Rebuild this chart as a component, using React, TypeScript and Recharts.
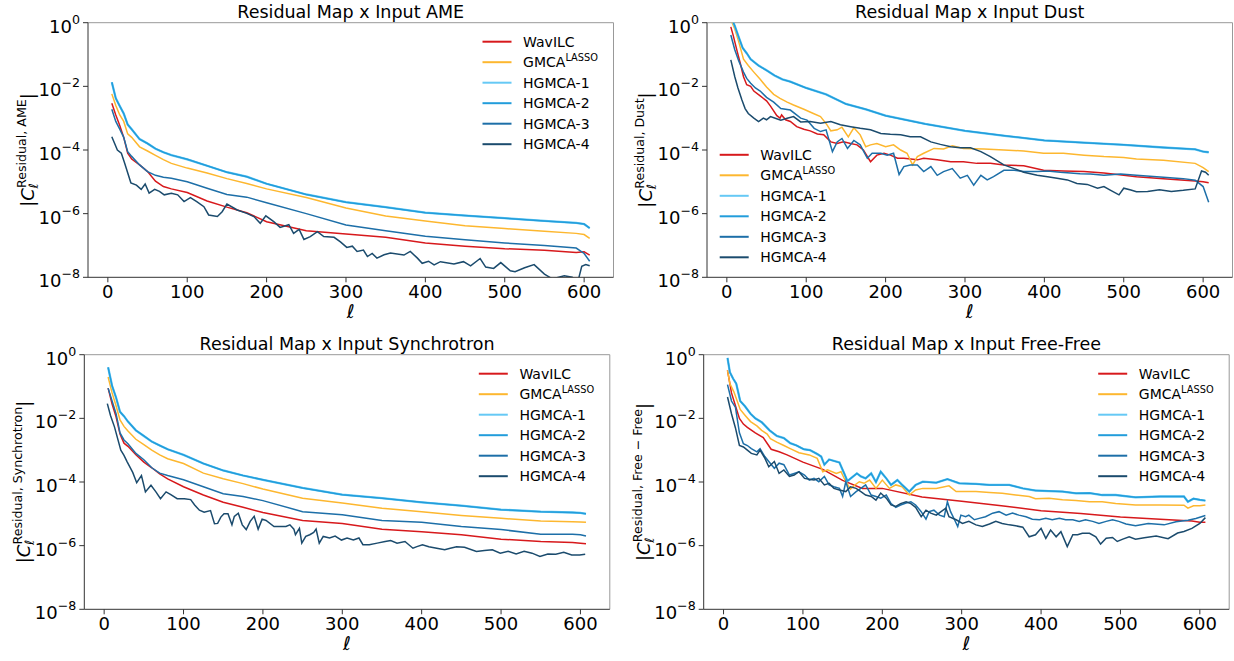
import React from 'react';
import { LineChart, Line, XAxis, YAxis, ReferenceLine } from 'recharts';

// multipoles shared by the smoother curves
const ellGrid = [5, 10, 15, 20, 25, 30, 40, 50, 60, 70, 80, 100, 125, 150, 175, 200, 250, 300, 350, 400, 450, 500, 550, 590, 600, 607];

// ---- AME ----
const ameWavilc = [2.95e-3, 1.26e-3, 5.9e-4, 2.5e-4, 7.9e-5, 5.2e-5, 3.4e-5, 2.1e-5, 1.05e-5, 7.1e-6, 6.0e-6, 4.6e-6, 2.5e-6, 1.6e-6, 1.07e-6, 5.6e-7, 2.9e-7, 2.3e-7, 1.8e-7, 1.2e-7, 9.5e-8, 7.9e-8, 7.1e-8, 6.0e-8, 6.3e-8, 5.0e-8];
const ameGmca = [5.8e-3, 2.5e-3, 1.26e-3, 7.9e-4, 3.2e-4, 2.5e-4, 1.26e-4, 9.3e-5, 6.8e-5, 5.0e-5, 3.8e-5, 2.7e-5, 1.9e-5, 1.26e-5, 8.9e-6, 6.0e-6, 3.2e-6, 1.5e-6, 8.5e-7, 5.9e-7, 4.2e-7, 3.4e-7, 2.8e-7, 2.4e-7, 2.2e-7, 1.66e-7];
const ameHgmca12 = [1.35e-2, 4.2e-3, 2.4e-3, 1.4e-3, 6.3e-4, 4.5e-4, 2.2e-4, 1.6e-4, 1.1e-4, 8.5e-5, 6.9e-5, 5.1e-5, 3.2e-5, 2.0e-5, 1.45e-5, 8.7e-6, 4.0e-6, 2.3e-6, 1.6e-6, 1.07e-6, 8.7e-7, 7.2e-7, 5.9e-7, 5.1e-7, 4.7e-7, 3.5e-7];
const ameHgmca3 = [1.9e-3, 7.9e-4, 4.5e-4, 2.5e-4, 8.9e-5, 6.3e-5, 3.4e-5, 2.1e-5, 1.6e-5, 1.4e-5, 1.3e-5, 1.0e-5, 6.3e-6, 4.0e-6, 3.3e-6, 2.2e-6, 1.0e-6, 4.4e-7, 2.9e-7, 1.95e-7, 1.5e-7, 1.2e-7, 1.0e-7, 8.3e-8, 5.6e-8, 3.2e-8];
const ameHgmca4Ell = [5, 12, 17, 21, 29, 36, 42, 47, 52, 59, 65, 71, 80, 88, 96, 104, 112, 121, 127, 138, 144, 150, 163, 175, 184, 192, 199, 209, 217, 228, 234, 241, 247, 255, 264, 272, 285, 293, 301, 308, 314, 322, 327, 333, 339, 348, 356, 373, 381, 390, 396, 404, 411, 419, 436, 448, 457, 469, 476, 486, 495, 507, 513, 525, 537, 550, 560, 575, 585, 592, 597, 602, 607];
const ameHgmca4 = [2.6e-4, 1.0e-4, 7.9e-5, 4.0e-5, 9.3e-6, 7.9e-6, 5.8e-6, 8.5e-6, 4.4e-6, 5.8e-6, 5.0e-6, 3.9e-6, 4.4e-6, 3.9e-6, 2.4e-6, 3.2e-6, 2.4e-6, 1.66e-6, 9.1e-7, 8.1e-7, 1.15e-6, 2.0e-6, 1.3e-6, 1.02e-6, 8.1e-7, 5.0e-7, 8.5e-7, 5.6e-7, 3.7e-7, 4.5e-7, 2.4e-7, 3.2e-7, 1.55e-7, 1.9e-7, 2.7e-7, 1.9e-7, 1.8e-7, 1.3e-7, 8.7e-8, 9.5e-8, 6.5e-8, 7.2e-8, 4.5e-8, 5.6e-8, 4.0e-8, 5.1e-8, 5.8e-8, 5.0e-8, 6.5e-8, 4.0e-8, 2.75e-8, 3.2e-8, 2.45e-8, 3.1e-8, 2.6e-8, 3.1e-8, 2.3e-8, 3.9e-8, 2.1e-8, 1.9e-8, 2.9e-8, 1.6e-8, 1.5e-8, 2.0e-8, 2.5e-8, 1.26e-8, 8.9e-9, 1.12e-8, 1.0e-8, 7.1e-9, 2.2e-8, 2.5e-8, 2.3e-8];

// ---- Dust ----
const dustWavilcEll = [5, 8, 13, 17, 21, 25, 30, 34, 42, 50, 55, 63, 67, 69, 74, 80, 88, 97, 105, 114, 122, 131, 139, 147, 156, 164, 172, 181, 189, 198, 206, 215, 223, 240, 248, 265, 282, 298, 315, 332, 349, 374, 399, 424, 450, 475, 500, 516, 550, 590, 600, 607];
const dustWavilc = [0.74, 0.4, 0.126, 5.2e-2, 2.0e-2, 1.12e-2, 1.0e-2, 7.1e-3, 5.0e-3, 3.5e-3, 2.4e-3, 1.2e-3, 1.0e-3, 1.26e-3, 8.9e-4, 7.9e-4, 5.4e-4, 4.5e-4, 4.0e-4, 3.2e-4, 3.0e-4, 1.8e-4, 1.6e-4, 1.8e-4, 1.6e-4, 1.45e-4, 1.0e-4, 4.3e-5, 6.9e-5, 7.9e-5, 6.9e-5, 5.5e-5, 5.5e-5, 4.9e-5, 5.5e-5, 4.9e-5, 4.3e-5, 4.3e-5, 3.8e-5, 3.8e-5, 3.4e-5, 3.2e-5, 2.3e-5, 2.2e-5, 2.1e-5, 1.9e-5, 1.6e-5, 1.45e-5, 1.26e-5, 1.07e-5, 1.0e-5, 9.3e-6];
const dustGmcaEll = [5, 10, 15, 21, 27, 34, 42, 50, 59, 67, 76, 84, 97, 109, 118, 126, 131, 139, 145, 153, 160, 168, 175, 181, 189, 200, 210, 219, 227, 234, 240, 248, 261, 273, 284, 298, 324, 349, 374, 399, 424, 450, 475, 500, 516, 550, 590, 600, 607];
const dustGmca = [1.26, 0.63, 0.25, 7.1e-2, 4.5e-2, 2.8e-2, 1.66e-2, 9.5e-3, 5.6e-3, 4.2e-3, 3.2e-3, 2.6e-3, 1.9e-3, 1.4e-3, 1.12e-3, 6.3e-4, 4.0e-4, 4.3e-4, 5.2e-4, 2.6e-4, 5.0e-4, 3.0e-4, 1.26e-4, 1.45e-4, 1.6e-4, 1.26e-4, 1.45e-4, 1.0e-4, 7.9e-5, 3.4e-5, 6.2e-5, 7.9e-5, 1.12e-4, 1.07e-4, 1.35e-4, 1.12e-4, 1.07e-4, 1.0e-4, 9.3e-5, 7.9e-5, 7.9e-5, 6.9e-5, 6.2e-5, 5.8e-5, 5.2e-5, 4.8e-5, 3.8e-5, 2.8e-5, 2.1e-5];
const dustHgmca12 = [1.6, 0.79, 0.35, 0.16, 0.11, 7.1e-2, 4.5e-2, 3.2e-2, 2.2e-2, 1.66e-2, 1.4e-2, 8.9e-3, 5.6e-3, 2.8e-3, 1.9e-3, 1.2e-3, 6.6e-4, 4.0e-4, 2.8e-4, 2.0e-4, 1.7e-4, 1.45e-4, 1.2e-4, 1.05e-4, 8.9e-5, 8.5e-5];
const dustHgmca3Ell = [5, 10, 15, 21, 25, 30, 36, 42, 50, 59, 68, 80, 93, 101, 110, 118, 125, 133, 139, 145, 152, 160, 168, 177, 183, 194, 202, 210, 217, 223, 231, 240, 248, 257, 265, 273, 284, 294, 303, 311, 320, 328, 336, 349, 362, 374, 391, 404, 420, 433, 445, 458, 475, 496, 516, 550, 575, 590, 600, 607];
const dustHgmca3 = [0.41, 0.141, 6.3e-2, 2.8e-2, 1.78e-2, 1.26e-2, 8.9e-3, 7.1e-3, 4.5e-3, 3.2e-3, 2.0e-3, 1.8e-3, 1.0e-3, 8.7e-4, 4.8e-4, 3.8e-4, 4.3e-4, 8.9e-5, 1.8e-4, 2.3e-4, 1.12e-4, 2.0e-4, 1.45e-4, 5.5e-5, 7.9e-5, 7.9e-5, 6.9e-5, 7.9e-5, 1.7e-5, 3.0e-5, 3.4e-5, 3.4e-5, 2.1e-5, 3.0e-5, 1.6e-5, 2.1e-5, 2.6e-5, 1.3e-5, 1.6e-5, 7.9e-6, 1.6e-5, 1.15e-5, 1.45e-5, 2.3e-5, 2.3e-5, 2.1e-5, 2.1e-5, 2.2e-5, 2.0e-5, 1.9e-5, 1.8e-5, 1.75e-5, 1.6e-5, 1.75e-5, 1.6e-5, 1.4e-5, 1.26e-5, 1.12e-5, 7.1e-6, 2.3e-6];
const dustHgmca4Ell = [5, 10, 14, 19, 23, 27, 34, 40, 46, 50, 55, 61, 68, 76, 84, 93, 105, 118, 131, 143, 156, 168, 181, 194, 206, 219, 231, 244, 257, 269, 282, 294, 307, 320, 332, 349, 362, 374, 391, 404, 416, 429, 441, 454, 467, 475, 483, 494, 500, 509, 516, 530, 545, 560, 575, 590, 598, 603, 607];
const dustHgmca4 = [6.8e-2, 2.0e-2, 8.9e-3, 3.7e-3, 2.0e-3, 1.4e-3, 1.0e-3, 7.8e-4, 1.0e-3, 8.9e-4, 1.12e-3, 1.0e-3, 8.7e-4, 1.0e-3, 1.12e-3, 7.6e-4, 7.9e-4, 6.9e-4, 7.9e-4, 6.2e-4, 5.4e-4, 4.8e-4, 4.3e-4, 3.3e-4, 3.1e-4, 3.0e-4, 2.6e-4, 2.6e-4, 1.8e-4, 1.5e-4, 1.26e-4, 1.17e-4, 1.17e-4, 8.9e-5, 6.2e-5, 3.4e-5, 2.6e-5, 2.0e-5, 1.6e-5, 1.45e-5, 1.3e-5, 1.15e-5, 8.9e-6, 8.3e-6, 6.3e-6, 7.1e-6, 5.5e-6, 3.9e-6, 6.3e-6, 5.5e-6, 4.9e-6, 5.0e-6, 5.6e-6, 5.0e-6, 5.4e-6, 6.0e-6, 2.2e-5, 2.0e-5, 1.6e-5];

// ---- Synchrotron ----
const syncWavilc = [8.9e-2, 2.8e-2, 1.12e-2, 3.2e-3, 1.66e-3, 1.32e-3, 7.2e-4, 4.2e-4, 2.8e-4, 1.8e-4, 1.26e-4, 7.1e-5, 3.9e-5, 2.3e-5, 1.6e-5, 1.1e-5, 6.2e-6, 5.0e-6, 3.3e-6, 2.75e-6, 2.2e-6, 1.6e-6, 1.35e-6, 1.26e-6, 1.2e-6, 1.15e-6];
const syncGmca = [0.2, 6.3e-2, 2.5e-2, 8.9e-3, 5.6e-3, 4.0e-3, 2.2e-3, 1.5e-3, 1.0e-3, 7.1e-4, 5.4e-4, 3.8e-4, 1.9e-4, 1.26e-4, 8.9e-5, 6.0e-5, 3.1e-5, 2.2e-5, 1.5e-5, 1.17e-5, 8.9e-6, 7.2e-6, 6.0e-6, 5.6e-6, 5.5e-6, 5.4e-6];
const syncHgmca12 = [0.4, 0.105, 4.5e-2, 1.6e-2, 1.17e-2, 7.9e-3, 4.2e-3, 2.8e-3, 1.86e-3, 1.4e-3, 1.07e-3, 7.1e-4, 3.8e-4, 2.3e-4, 1.6e-4, 1.17e-4, 6.5e-5, 4.0e-5, 3.1e-5, 2.3e-5, 1.8e-5, 1.35e-5, 1.17e-5, 1.1e-5, 1.07e-5, 1.0e-5];
const syncHgmca3 = [8.9e-2, 3.5e-2, 1.4e-2, 3.5e-3, 2.1e-3, 1.6e-3, 7.9e-4, 5.0e-4, 2.8e-4, 1.9e-4, 1.6e-4, 1.17e-4, 7.1e-5, 4.3e-5, 3.5e-5, 2.6e-5, 1.17e-5, 9.3e-6, 6.2e-6, 5.4e-6, 4.0e-6, 3.2e-6, 2.3e-6, 2.3e-6, 2.2e-6, 2.0e-6];
const syncHgmca4Ell = [4, 8, 13, 21, 25, 29, 36, 41, 47, 52, 59, 65, 71, 78, 84, 92, 101, 109, 114, 120, 126, 134, 139, 143, 147, 151, 156, 161, 164, 169, 174, 179, 184, 189, 194, 199, 204, 214, 229, 234, 239, 241, 246, 249, 254, 259, 264, 267, 271, 276, 284, 291, 299, 306, 314, 321, 326, 334, 344, 354, 361, 369, 379, 389, 394, 401, 409, 419, 429, 436, 444, 454, 469, 479, 489, 499, 509, 519, 529, 539, 549, 559, 569, 579, 589, 599, 606];
const syncHgmca4 = [2.9e-2, 1.23e-2, 5.4e-3, 1.0e-3, 6.9e-4, 4.3e-4, 2.0e-4, 9.5e-5, 1.6e-4, 4.9e-5, 7.9e-5, 5.0e-5, 3.0e-5, 4.9e-5, 4.0e-5, 3.0e-5, 3.0e-5, 2.8e-5, 1.9e-5, 1.3e-5, 1.12e-5, 1.26e-5, 4.9e-6, 5.0e-6, 7.9e-6, 1.0e-5, 1.0e-5, 4.5e-6, 8.3e-6, 1.05e-5, 4.5e-6, 3.2e-6, 5.8e-6, 8.3e-6, 3.3e-6, 6.8e-6, 6.2e-6, 4.0e-6, 4.0e-6, 4.5e-6, 3.3e-6, 2.2e-6, 3.5e-6, 1.2e-6, 1.95e-6, 2.2e-6, 2.6e-6, 3.3e-6, 1.2e-6, 1.95e-6, 1.74e-6, 2.0e-6, 1.5e-6, 1.74e-6, 1.5e-6, 1.74e-6, 1.07e-6, 1.07e-6, 1.2e-6, 1.35e-6, 1.45e-6, 1.2e-6, 1.35e-6, 8.3e-7, 9.3e-7, 1.07e-6, 9.3e-7, 8.3e-7, 7.4e-7, 8.3e-7, 9.3e-7, 8.9e-7, 6.6e-7, 7.1e-7, 7.4e-7, 5.8e-7, 6.6e-7, 5.5e-7, 6.6e-7, 5.8e-7, 4.6e-7, 5.5e-7, 5.4e-7, 6.2e-7, 5.1e-7, 5.1e-7, 5.4e-7];

// ---- Free-Free ----
const ffWavilc = [0.32, 6.3e-2, 2.5e-2, 1.0e-2, 6.6e-3, 5.2e-3, 3.5e-3, 2.5e-3, 1.07e-3, 8.9e-4, 7.1e-4, 4.2e-4, 2.5e-4, 1.12e-4, 6.3e-5, 6.3e-5, 3.4e-5, 2.5e-5, 1.78e-5, 1.26e-5, 1.02e-5, 7.9e-6, 6.8e-6, 5.9e-6, 5.4e-6, 5.4e-6];
const ffGmcaEll = [5, 8, 13, 21, 27, 34, 42, 48, 55, 59, 67, 76, 84, 95, 108, 118, 125, 131, 142, 148, 154, 160, 165, 171, 177, 184, 192, 200, 209, 217, 225, 234, 242, 251, 268, 284, 293, 318, 335, 351, 368, 385, 393, 410, 427, 444, 461, 477, 494, 519, 550, 580, 585, 592, 600, 607];
const ffGmca = [0.32, 0.123, 6.8e-2, 1.9e-2, 1.26e-2, 7.9e-3, 5.8e-3, 4.2e-3, 3.2e-3, 2.3e-3, 1.8e-3, 1.4e-3, 1.12e-3, 8.3e-4, 7.1e-4, 5.5e-4, 2.1e-4, 2.4e-4, 1.86e-4, 2.1e-4, 1.02e-4, 6.0e-5, 7.9e-5, 1.02e-4, 9.1e-5, 1.15e-4, 6.3e-5, 1.15e-4, 6.3e-5, 8.1e-5, 7.1e-5, 3.9e-5, 5.6e-5, 6.3e-5, 6.3e-5, 7.6e-5, 5.0e-5, 5.0e-5, 4.7e-5, 4.4e-5, 3.9e-5, 3.5e-5, 3.0e-5, 3.1e-5, 2.75e-5, 2.6e-5, 2.4e-5, 2.4e-5, 2.1e-5, 1.9e-5, 1.9e-5, 1.86e-5, 1.5e-5, 1.8e-5, 1.8e-5, 1.9e-5];
const ffHgmca12Ell = [5, 8, 12, 16, 21, 27, 34, 40, 48, 58, 67, 76, 84, 92, 101, 109, 118, 123, 127, 133, 146, 152, 156, 168, 173, 179, 186, 192, 198, 205, 211, 219, 225, 234, 242, 251, 268, 282, 297, 318, 335, 360, 377, 393, 410, 427, 444, 461, 477, 494, 519, 550, 580, 585, 592, 600, 607];
const ffHgmca12 = [0.79, 0.28, 0.178, 0.123, 3.5e-2, 2.4e-2, 1.4e-2, 1.0e-2, 7.6e-3, 4.2e-3, 2.8e-3, 2.4e-3, 1.66e-3, 1.4e-3, 1.07e-3, 1.0e-3, 7.6e-4, 6.3e-4, 3.5e-4, 5.1e-4, 4.1e-4, 1.86e-4, 1.07e-4, 1.86e-4, 1.5e-4, 1.3e-4, 1.86e-4, 1.0e-4, 2.1e-4, 1.3e-4, 8.1e-5, 1.15e-4, 8.1e-5, 5.0e-5, 8.1e-5, 1.02e-4, 9.5e-5, 1.23e-4, 9.1e-5, 8.7e-5, 8.1e-5, 8.1e-5, 6.3e-5, 5.4e-5, 5.2e-5, 5.0e-5, 4.4e-5, 4.5e-5, 3.9e-5, 3.9e-5, 3.3e-5, 3.5e-5, 3.5e-5, 2.4e-5, 3.0e-5, 2.75e-5, 2.6e-5];
const ffHgmca3Ell = [5, 10, 15, 20, 25, 30, 35, 42, 46, 52, 57, 64, 70, 76, 83, 89, 95, 102, 108, 114, 120, 127, 133, 139, 146, 150, 154, 160, 167, 173, 179, 186, 192, 198, 205, 211, 217, 223, 230, 236, 242, 249, 255, 259, 265, 272, 278, 282, 286, 291, 295, 299, 305, 309, 316, 322, 330, 339, 347, 356, 364, 372, 381, 389, 398, 406, 414, 423, 431, 440, 448, 456, 465, 473, 482, 490, 498, 507, 519, 535, 555, 570, 585, 595, 607];
const ffHgmca3 = [0.115, 3.5e-2, 2.2e-2, 3.5e-3, 1.6e-3, 1.4e-3, 1.12e-3, 8.9e-4, 1.12e-3, 6.3e-4, 4.4e-4, 2.7e-4, 3.9e-4, 3.5e-4, 1.66e-4, 1.86e-4, 2.1e-4, 1.66e-4, 1.15e-4, 1.3e-4, 1.02e-4, 1.5e-4, 8.1e-5, 7.1e-5, 6.3e-5, 3.5e-5, 1.02e-4, 3.5e-5, 5.0e-5, 6.3e-5, 8.1e-5, 3.9e-5, 3.5e-5, 3.1e-5, 3.9e-5, 2.1e-5, 1.6e-5, 1.9e-5, 2.2e-5, 2.4e-5, 1.9e-5, 1.17e-5, 6.8e-6, 1.17e-5, 1.3e-5, 9.1e-6, 8.1e-6, 2.4e-5, 1.17e-5, 6.5e-6, 4.0e-6, 9.1e-6, 8.1e-6, 9.1e-6, 6.5e-6, 7.2e-6, 8.1e-6, 1.05e-5, 1.17e-5, 9.1e-6, 1.05e-5, 9.1e-6, 8.1e-6, 6.8e-6, 6.5e-6, 7.2e-6, 6.5e-6, 7.2e-6, 6.5e-6, 6.5e-6, 5.8e-6, 6.5e-6, 5.8e-6, 5.0e-6, 5.8e-6, 6.5e-6, 5.8e-6, 4.8e-6, 4.2e-6, 5.0e-6, 4.5e-6, 5.6e-6, 6.3e-6, 7.1e-6, 8.9e-6];
const ffHgmca4Ell = [5, 10, 15, 20, 25, 30, 35, 42, 46, 52, 57, 64, 70, 76, 83, 89, 95, 102, 108, 114, 120, 127, 133, 139, 146, 154, 160, 167, 173, 179, 186, 192, 198, 205, 211, 217, 223, 230, 236, 242, 249, 255, 261, 268, 274, 280, 284, 293, 301, 309, 318, 326, 335, 343, 351, 360, 368, 377, 385, 393, 400, 406, 412, 419, 425, 433, 440, 446, 452, 461, 469, 475, 482, 490, 496, 503, 511, 519, 530, 545, 560, 572, 580, 590, 600, 607];
const ffHgmca4 = [4.7e-2, 1.4e-2, 5.0e-3, 1.4e-3, 1.26e-3, 1.0e-3, 7.9e-4, 7.1e-4, 1.0e-3, 5.6e-4, 3.0e-4, 4.4e-4, 1.86e-4, 2.4e-4, 1.5e-4, 1.66e-4, 2.1e-4, 1.3e-4, 1.23e-4, 1.15e-4, 1.3e-4, 8.1e-5, 9.1e-5, 6.3e-5, 5.6e-5, 5.0e-5, 7.1e-5, 6.3e-5, 5.0e-5, 3.9e-5, 3.5e-5, 2.7e-5, 4.5e-5, 3.1e-5, 1.9e-5, 1.7e-5, 2.1e-5, 2.4e-5, 2.1e-5, 1.6e-5, 8.1e-6, 1.3e-5, 1.05e-5, 9.1e-6, 1.17e-5, 1.5e-5, 8.1e-6, 6.5e-6, 5.0e-6, 5.8e-6, 4.5e-6, 4.0e-6, 4.8e-6, 5.8e-6, 5.0e-6, 4.5e-6, 4.2e-6, 3.8e-6, 1.9e-6, 2.2e-6, 3.5e-6, 1.7e-6, 3.1e-6, 1.9e-6, 2.75e-6, 9.3e-7, 2.2e-6, 2.2e-6, 2.45e-6, 2.45e-6, 1.9e-6, 1.12e-6, 1.7e-6, 1.8e-6, 1.35e-6, 1.6e-6, 1.9e-6, 1.6e-6, 1.78e-6, 2.0e-6, 1.66e-6, 2.5e-6, 2.8e-6, 3.5e-6, 5.0e-6, 7.6e-6];

const seriesNames = ['WavILC', 'GMCA', 'HGMCA-1', 'HGMCA-2', 'HGMCA-3', 'HGMCA-4'];
const seriesSup = ['', 'LASSO', '', '', '', ''];
const seriesColors = ['#d7191c', '#fdb72f', '#66c9f5', '#229ddb', '#1d6fa8', '#1b4b6d'];
const seriesWidths = [1.5, 1.5, 2.3, 1.5, 1.5, 1.5];

const xTicks = [0, 100, 200, 300, 400, 500, 600];
const yTicks = [1e-8, 1e-6, 1e-4, 1e-2, 1];
const yTickExponents = ['−8', '−6', '−4', '−2', '0'];

const FONT = "'DejaVu Sans', sans-serif";
const PLOT_W = 525.5;
const PLOT_H = 254.6;
const X_DOMAIN: [number, number] = [-25, 637];

const toPoints = (ell: number[], vals: number[]) => ell.map((l, i) => ({ l, v: vals[i] }));

const panels = [
  {
    title: 'Residual Map x Input AME', sup: 'Residual, AME',
    left: 0, top: 0, height: 330, yAxisWidth: 88, marginTop: 22.7, titleY: 18, yLabelX: 34, xLabelY: 318, legend: 'upper',
    series: [[ellGrid, ameWavilc], [ellGrid, ameGmca], [ellGrid, ameHgmca12], [ellGrid, ameHgmca12], [ellGrid, ameHgmca3], [ameHgmca4Ell, ameHgmca4]],
  },
  {
    title: 'Residual Map x Input Dust', sup: 'Residual, Dust',
    left: 617, top: 0, height: 330, yAxisWidth: 90, marginTop: 22.7, titleY: 18, yLabelX: 35, xLabelY: 318, legend: 'lower',
    series: [[dustWavilcEll, dustWavilc], [dustGmcaEll, dustGmca], [ellGrid, dustHgmca12], [ellGrid, dustHgmca12], [dustHgmca3Ell, dustHgmca3], [dustHgmca4Ell, dustHgmca4]],
  },
  {
    title: 'Residual Map x Input Synchrotron', sup: 'Residual, Synchrotron',
    left: 0, top: 330, height: 331, yAxisWidth: 84.3, marginTop: 24.7, titleY: 20, yLabelX: 30, xLabelY: 320, legend: 'upper',
    series: [[ellGrid, syncWavilc], [ellGrid, syncGmca], [ellGrid, syncHgmca12], [ellGrid, syncHgmca12], [ellGrid, syncHgmca3], [syncHgmca4Ell, syncHgmca4]],
  },
  {
    title: 'Residual Map x Input Free-Free', sup: 'Residual, Free − Free',
    left: 617, top: 330, height: 331, yAxisWidth: 86.7, marginTop: 24.7, titleY: 20, yLabelX: 33, xLabelY: 320, legend: 'upper',
    series: [[ellGrid, ffWavilc], [ffGmcaEll, ffGmca], [ffHgmca12Ell, ffHgmca12], [ffHgmca12Ell, ffHgmca12], [ffHgmca3Ell, ffHgmca3], [ffHgmca4Ell, ffHgmca4]],
  },
];

const PowerTick = (props: any) => {
  const { x, y, payload } = props;
  const idx = yTicks.indexOf(payload.value);
  return (
    <text x={x} y={y + 10} textAnchor="end" fontSize={18} fill="#000" fontFamily={FONT}>
      10<tspan dy={-9} fontSize={12.6}>{yTickExponents[idx]}</tspan>
    </text>
  );
};

function Panel({ cfg }: { cfg: (typeof panels)[number] }) {
  const width = 617;
  const plotLeft = cfg.yAxisWidth;
  const plotCx = plotLeft + PLOT_W / 2;
  const plotCy = cfg.marginTop + PLOT_H / 2;
  const xAxisHeight = cfg.height - cfg.marginTop - PLOT_H;
  const rightMargin = width - plotLeft - PLOT_W;

  const legendLineX = cfg.legend === 'upper' ? plotLeft + PLOT_W - 131 : plotLeft + 12.7;
  const legendTop = cfg.legend === 'upper' ? cfg.marginTop + 19 : cfg.marginTop + PLOT_H - 20 - 5 * 20.5;

  return (
    <div style={{ position: 'absolute', left: cfg.left, top: cfg.top, width, height: cfg.height }}>
      <LineChart width={width} height={cfg.height} margin={{ top: cfg.marginTop, right: rightMargin, bottom: 0, left: 0 }}>
        <XAxis
          dataKey="l"
          type="number"
          domain={X_DOMAIN}
          ticks={xTicks}
          interval={0}
          allowDataOverflow
          height={xAxisHeight}
          tick={{ fontSize: 18, fill: '#000' }}
          tickSize={5}
          tickMargin={3}
          axisLine={{ stroke: '#333' }}
          tickLine={{ stroke: '#333' }}
        />
        <YAxis
          type="number"
          scale="log"
          domain={[1e-8, 1]}
          ticks={yTicks}
          interval={0}
          allowDataOverflow
          width={cfg.yAxisWidth}
          tick={<PowerTick />}
          tickSize={5}
          tickMargin={3}
          axisLine={{ stroke: '#333' }}
          tickLine={{ stroke: '#333' }}
        />
        <ReferenceLine y={1} stroke="#999" strokeWidth={1} />
        <ReferenceLine x={X_DOMAIN[1]} stroke="#999" strokeWidth={1} />
        {cfg.series.map(([ell, vals], i) => (
          <Line
            key={seriesNames[i]}
            name={seriesNames[i]}
            data={toPoints(ell, vals)}
            dataKey="v"
            type="linear"
            stroke={seriesColors[i]}
            strokeWidth={seriesWidths[i]}
            dot={false}
            activeDot={false}
            isAnimationActive={false}
          />
        ))}
      </LineChart>
      <svg
        width={width}
        height={cfg.height}
        style={{ position: 'absolute', left: 0, top: 0, pointerEvents: 'none' }}
        fontFamily={FONT}
      >
        <text x={plotCx} y={cfg.titleY} textAnchor="middle" fontSize={17.5} fill="#000">
          {cfg.title}
        </text>
        <text x={plotCx} y={cfg.xLabelY} textAnchor="middle" fontSize={19} fontStyle="italic" fill="#000">
          ℓ
        </text>
        <text
          transform={`translate(${cfg.yLabelX},${plotCy}) rotate(-90)`}
          textAnchor="middle"
          fontSize={18}
          fill="#000"
        >
          |<tspan fontStyle="italic">C</tspan>
          <tspan fontSize={12.6} fontStyle="italic" dy={4}>ℓ</tspan>
          <tspan fontSize={12.6} dx={-5} dy={-12}>{cfg.sup}</tspan>
          <tspan dy={8}>|</tspan>
        </text>
        {seriesNames.map((name, i) => {
          const y = legendTop + i * 20.5;
          return (
            <g key={name}>
              <line x1={legendLineX} x2={legendLineX + 29} y1={y} y2={y} stroke={seriesColors[i]} strokeWidth={2} />
              <text x={legendLineX + 40.6} y={y + 5} fontSize={14} fill="#000">
                {name}
                {seriesSup[i] ? <tspan dy={-6} fontSize={9.8}>{seriesSup[i]}</tspan> : null}
              </text>
            </g>
          );
        })}
      </svg>
    </div>
  );
}

export default function App() {
  return (
    <div style={{ position: 'absolute', left: 0, top: 0, width: 1234, height: 661, background: '#fff', fontFamily: FONT }}>
      {panels.map((cfg) => (
        <Panel key={cfg.title} cfg={cfg} />
      ))}
    </div>
  );
}
